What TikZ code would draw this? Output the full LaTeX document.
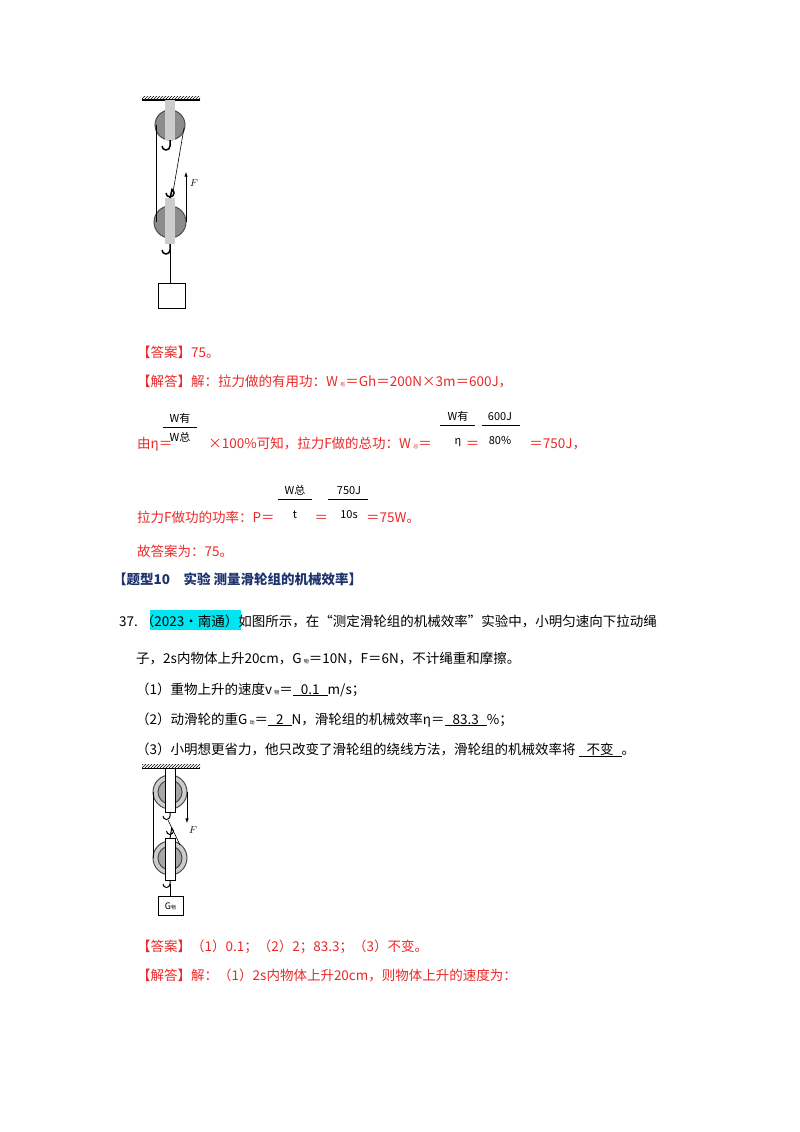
\documentclass[tikz,border=0pt]{standalone}
\usepackage{fontspec}
\setmainfont{Noto Sans CJK SC}
\usetikzlibrary{patterns}
\definecolor{ansred}{RGB}{235,40,40}
\definecolor{titleblue}{RGB}{30,50,110}
\definecolor{hlcyan}{RGB}{0,230,240}
\begin{document}
\begin{tikzpicture}[x=1pt,y=-1pt,
  txt/.style={anchor=base west,inner sep=0pt,font=\fontsize{13.5}{16}\selectfont},
  red txt/.style={txt,text=ansred},
  frac/.style={anchor=base,inner sep=0pt,font=\fontsize{11}{12}\selectfont,text=black},
  wheel/.style={draw=black!70,fill=black!45,line width=1pt},
  rope/.style={line width=0.6pt}]
\useasboundingbox (0,0) rectangle (800,1132);

%% first pulley set
\fill[pattern=north east lines] (142,96) rectangle (200,100);
\draw[line width=1.5pt] (142,100) -- (200,100);
\draw[wheel] (170,125) circle (15);
\fill[black!20] (165,100) rectangle (175,140);
\draw[line width=1.5pt] (170,140) -- (170,146) arc (0:180:4);
\draw[wheel] (170,222) circle (16);
\fill[black!20] (165,198) rectangle (175,244);
\draw[line width=1.5pt] (166,193) arc (180:-60:4) -- (170,198);
\draw[line width=1.5pt] (170,244) -- (170,250) arc (0:180:4);
\draw[rope] (156,125) -- (156,222);
\draw[rope] (184,128) -- (173,192);
\draw[rope,-latex] (186,222) -- (186,172);
\node[anchor=west,inner sep=1pt,font=\itshape\normalsize] (f1) at (189,183) {$F$};
\draw[rope] (170,250) -- (170,283);
\draw[line width=0.8pt] (158,283) rectangle (185,308);

%% answer block
\node[red txt] (a1) at (137,357) {【答案】75。};
\node[red txt] (a2) at (137,386) {【解答】解：拉力做的有用功：W\,{\tiny 有}＝Gh＝200N×3m＝600J，};
\node[red txt] (a3) at (137,448) {由η＝\hspace{36pt}×100\%可知，拉力F做的总功：W\,{\tiny 总}＝\hspace{34pt}＝\hspace{50pt}＝750J，};
\node[frac] (n1) at (180,422) {W有};
\draw (163,427) -- (197,427);
\node[frac] (d1) at (180,441) {W总};
\node[frac] (n2) at (458,420) {W有};
\draw (440,425) -- (475,425);
\node[frac] (d2) at (458,444) {η};
\node[frac] (n3) at (500,420) {600J};
\draw (482,425) -- (520,425);
\node[frac] (d3) at (500,444) {80\%};
\node[red txt] (a4) at (137,522) {拉力F做功的功率：P＝\hspace{40pt}＝\hspace{38pt}＝75W。};
\node[frac] (n4) at (295,494) {W总};
\draw (278,499) -- (312,499);
\node[frac] (d4) at (295,518) {t};
\node[frac] (n5) at (349,494) {750J};
\draw (328,499) -- (368,499);
\node[frac] (d5) at (349,518) {10s};
\node[red txt] (a5) at (137,556) {故答案为：75。};

%% question
\node[txt,text=titleblue,font=\bfseries\fontsize{13.5}{16}\selectfont] (t1) at (113,584) {【题型10\quad 实验 测量滑轮组的机械效率】};
\fill[hlcyan] (150,610) rectangle (241,630);
\node[txt] (q0) at (119,626) {37.\ （2023•南通）如图所示，在“测定滑轮组的机械效率”实验中，小明匀速向下拉动绳};
\node[txt] (q1) at (136,663) {子，2s内物体上升20cm，G\,{\tiny 物}＝10N，F＝6N，不计绳重和摩擦。};
\node[txt] (q2) at (136,694) {（1）重物上升的速度v\,{\tiny 物}＝\underline{\hspace{8pt}0.1\hspace{8pt}}m/s；};
\node[txt] (q3) at (136,724) {（2）动滑轮的重G\,{\tiny 动}＝\underline{\hspace{8pt}2\hspace{8pt}}N，滑轮组的机械效率η＝\underline{\hspace{8pt}83.3\hspace{8pt}}\%；};
\node[txt] (q4) at (136,754) {（3）小明想更省力，他只改变了滑轮组的绕线方法，滑轮组的机械效率将\ \underline{\hspace{8pt}不变\hspace{8pt}}。};

%% second pulley set
\fill[pattern=north east lines] (142,764) rectangle (200,768);
\draw[line width=1pt] (142,768) -- (200,768);
\draw[wheel,fill=black!20] (170,792) circle (17);
\draw[wheel,fill=black!35] (170,792) circle (12);
\draw[fill=white] (165,768) rectangle (175,812);
\draw[line width=1pt] (170,812) -- (170,816) arc (0:180:3.5);
\draw[wheel,fill=black!20] (170,858) circle (17);
\draw[wheel,fill=black!35] (170,858) circle (12);
\draw[fill=white] (165,838) rectangle (175,880);
\draw[line width=1pt] (166.5,831) arc (180:-60:3.5) -- (170,838);
\draw[line width=1pt] (170,880) -- (170,884) arc (0:180:3.5);
\draw[rope] (153,792) -- (153,858);
\draw[rope] (168,820) -- (180,845);
\draw[rope,-latex] (187,792) -- (187,823);
\node[anchor=west,inner sep=1pt,font=\itshape\normalsize] (f2) at (188,830) {$F$};
\draw[rope] (170,884) -- (170,896);
\draw[line width=0.8pt] (158,896) rectangle (183,915);
\node[inner sep=0pt,font=\small] (g2) at (170.5,906) {\textit{G}{\tiny 物}};

%% second answer
\node[red txt] (b1) at (137,951) {【答案】（1）0.1；（2）2；83.3；（3）不变。};
\node[red txt] (b2) at (137,980) {【解答】解：（1）2s内物体上升20cm，则物体上升的速度为：};
\end{tikzpicture}
\end{document}
